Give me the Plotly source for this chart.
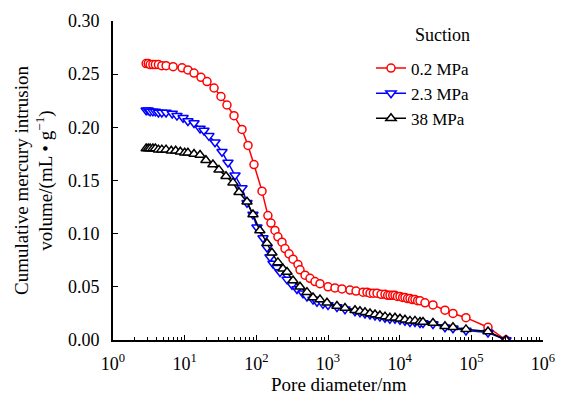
import plotly.graph_objects as go

# Pore diameter (nm) and cumulative intrusion volume (mL/g) for each suction level
d_02 = [2.9, 3.1, 3.3, 3.6, 3.9, 4.3, 4.8, 5.5, 6.9, 9.2, 11.1, 13.5, 16.9, 20.5,
        25.7, 32.1, 38.9, 48.8, 63.1, 76.5, 92.7, 120, 145, 160, 182, 200, 228,
        251, 286, 325, 381, 407, 478, 561, 658, 773, 1000, 1250, 1567, 2027,
        2460, 3078, 3500, 3855, 4300, 4828, 5500, 6243, 6800, 7333, 8000, 8608,
        9300, 10100, 11000, 11860, 12900, 13930, 15100, 16360, 17800, 19220,
        22550, 29170, 42880, 55470, 84180, 170700, 304300]
v_02 = [0.260, 0.260, 0.259, 0.259, 0.259, 0.259, 0.258, 0.258, 0.257, 0.256,
        0.254, 0.251, 0.247, 0.243, 0.237, 0.229, 0.221, 0.211, 0.198, 0.183,
        0.165, 0.140, 0.117, 0.110, 0.103, 0.097, 0.092, 0.086, 0.081, 0.076,
        0.071, 0.066, 0.061, 0.058, 0.055, 0.053, 0.050, 0.049, 0.048, 0.047,
        0.046, 0.045, 0.045, 0.044, 0.044, 0.044, 0.043, 0.043, 0.042, 0.042,
        0.042, 0.042, 0.041, 0.041, 0.040, 0.040, 0.039, 0.039, 0.038, 0.038,
        0.037, 0.037, 0.035, 0.033, 0.028, 0.025, 0.021, 0.012, 0.000]

d_23 = [2.9, 3.1, 3.3, 3.6, 3.9, 4.3, 4.8, 5.5, 6.7, 7.8, 9.5, 11.1, 13.5, 16.4,
        18.6, 21.8, 26.5, 33.2, 40.2, 50.4, 63.1, 74.1, 89.8, 102, 124, 141,
        155, 171, 194, 214, 268, 315, 369, 448, 509, 618, 702, 851, 1000, 1334,
        1726, 2381, 2795, 3282, 3855, 4528, 5300, 6243, 7300, 8608, 10100,
        11860, 13930, 16360, 19220, 21150, 29170, 42880, 55470, 84180, 170700,
        304300]
v_23 = [0.216, 0.216, 0.215, 0.215, 0.215, 0.214, 0.214, 0.214, 0.213, 0.211,
        0.209, 0.206, 0.204, 0.199, 0.197, 0.192, 0.186, 0.177, 0.167, 0.155,
        0.143, 0.129, 0.118, 0.106, 0.096, 0.087, 0.078, 0.072, 0.068, 0.064,
        0.057, 0.052, 0.048, 0.044, 0.041, 0.038, 0.036, 0.034, 0.033, 0.031,
        0.029, 0.027, 0.026, 0.025, 0.024, 0.023, 0.022, 0.021, 0.020, 0.020,
        0.019, 0.018, 0.017, 0.017, 0.016, 0.016, 0.015, 0.012, 0.011, 0.009,
        0.007, 0.000]

d_38 = [2.9, 3.1, 3.3, 3.6, 3.9, 4.3, 4.8, 5.5, 6.5, 7.5, 8.7, 10.0, 11.1, 13.5,
        16.4, 19.8, 24.8, 30.1, 37.7, 47.2, 57.3, 74.1, 89.8, 112, 141, 165,
        200, 235, 268, 325, 407, 509, 618, 773, 968, 1334, 1726, 2381, 2795,
        3282, 3855, 4528, 5300, 6243, 7300, 8608, 10100, 11860, 13930, 16360,
        19220, 21150, 29170, 42880, 55470, 84180, 170700, 304300]
v_38 = [0.180, 0.180, 0.180, 0.180, 0.180, 0.179, 0.179, 0.179, 0.178, 0.178,
        0.177, 0.176, 0.176, 0.175, 0.174, 0.169, 0.165, 0.160, 0.154, 0.148,
        0.139, 0.130, 0.118, 0.103, 0.091, 0.082, 0.073, 0.067, 0.064, 0.056,
        0.050, 0.045, 0.040, 0.038, 0.035, 0.032, 0.030, 0.028, 0.027, 0.026,
        0.025, 0.024, 0.023, 0.022, 0.021, 0.021, 0.020, 0.019, 0.018, 0.018,
        0.017, 0.017, 0.016, 0.013, 0.012, 0.010, 0.008, 0.000]

series_names = ["0.2 MPa", "2.3 MPa", "38 MPa"]
legend_title = "Suction"
x_title = "Pore diameter/nm"
y_title = "Cumulative mercury intrusion<br>volume/(mL • g<sup>−1</sup>)"
x_tick_vals = [1, 10, 100, 1000, 10000, 100000, 1000000]
x_tick_text = ["10<sup>0</sup>", "10<sup>1</sup>", "10<sup>2</sup>", "10<sup>3</sup>",
               "10<sup>4</sup>", "10<sup>5</sup>", "10<sup>6</sup>"]
y_tick_vals = [0.00, 0.05, 0.10, 0.15, 0.20, 0.25, 0.30]
y_tick_text = ["0.00", "0.05", "0.10", "0.15", "0.20", "0.25", "0.30"]

FONT = "Liberation Serif, Times New Roman, serif"

styles = [
    ("#ff0000", "circle", 8),
    ("#0000ff", "triangle-down", 9),
    ("#000000", "triangle-up", 9),
]

fig = go.Figure()
for (xs, ys), name, (col, sym, sz) in zip(
        [(d_02, v_02), (d_23, v_23), (d_38, v_38)], series_names, styles):
    fig.add_trace(go.Scatter(
        x=xs, y=ys, name=name, mode="lines+markers",
        line=dict(color=col, width=1.5),
        marker=dict(symbol=sym, size=sz, color="white",
                    line=dict(color=col, width=1.5)),
    ))

fig.update_layout(
    width=562, height=400,
    margin=dict(l=113, r=19, t=21, b=60),
    paper_bgcolor="white", plot_bgcolor="white",
    font=dict(family=FONT, size=18, color="black"),
    showlegend=True,
    legend=dict(
        x=0.600, y=0.9075, xanchor="left", yanchor="top",
        bgcolor="rgba(0,0,0,0)",
        font=dict(family=FONT, size=17),
        itemwidth=30, tracegroupgap=0,
    ),
    annotations=[
        dict(text=legend_title, xref="paper", yref="paper",
             x=0.697, y=0.957, xanchor="left", yanchor="middle",
             showarrow=False, font=dict(family=FONT, size=18)),
        # x-axis title, centred slightly right of the plot middle
        dict(text=x_title, xref="paper", yref="paper",
             x=0.526, y=-0.141, xanchor="center", yanchor="middle",
             showarrow=False, font=dict(family=FONT, size=19)),
    ],
)

fig.update_xaxes(
    type="log", range=[0, 6], automargin=False,
    tickvals=x_tick_vals, ticktext=x_tick_text,
    ticks="inside", ticklen=5, tickwidth=1.2, tickcolor="black",
    minor=dict(ticks="inside", ticklen=3, tickwidth=1, tickcolor="black",
               dtick="D1", showgrid=False),
    showline=True, linecolor="black", linewidth=2,
    showgrid=False, zeroline=False,
    tickfont=dict(family=FONT, size=18),
    ticklabelstandoff=6,
)
fig.update_yaxes(
    range=[0, 0.30], automargin=False,
    tickvals=y_tick_vals, ticktext=y_tick_text,
    ticks="inside", ticklen=5, tickwidth=1.2, tickcolor="black",
    showline=True, linecolor="black", linewidth=2,
    showgrid=False, zeroline=False,
    tickfont=dict(family=FONT, size=18),
    ticklabelstandoff=8,
    title=dict(text=y_title, font=dict(family=FONT, size=19), standoff=10),
)

fig.write_html("out.html")
